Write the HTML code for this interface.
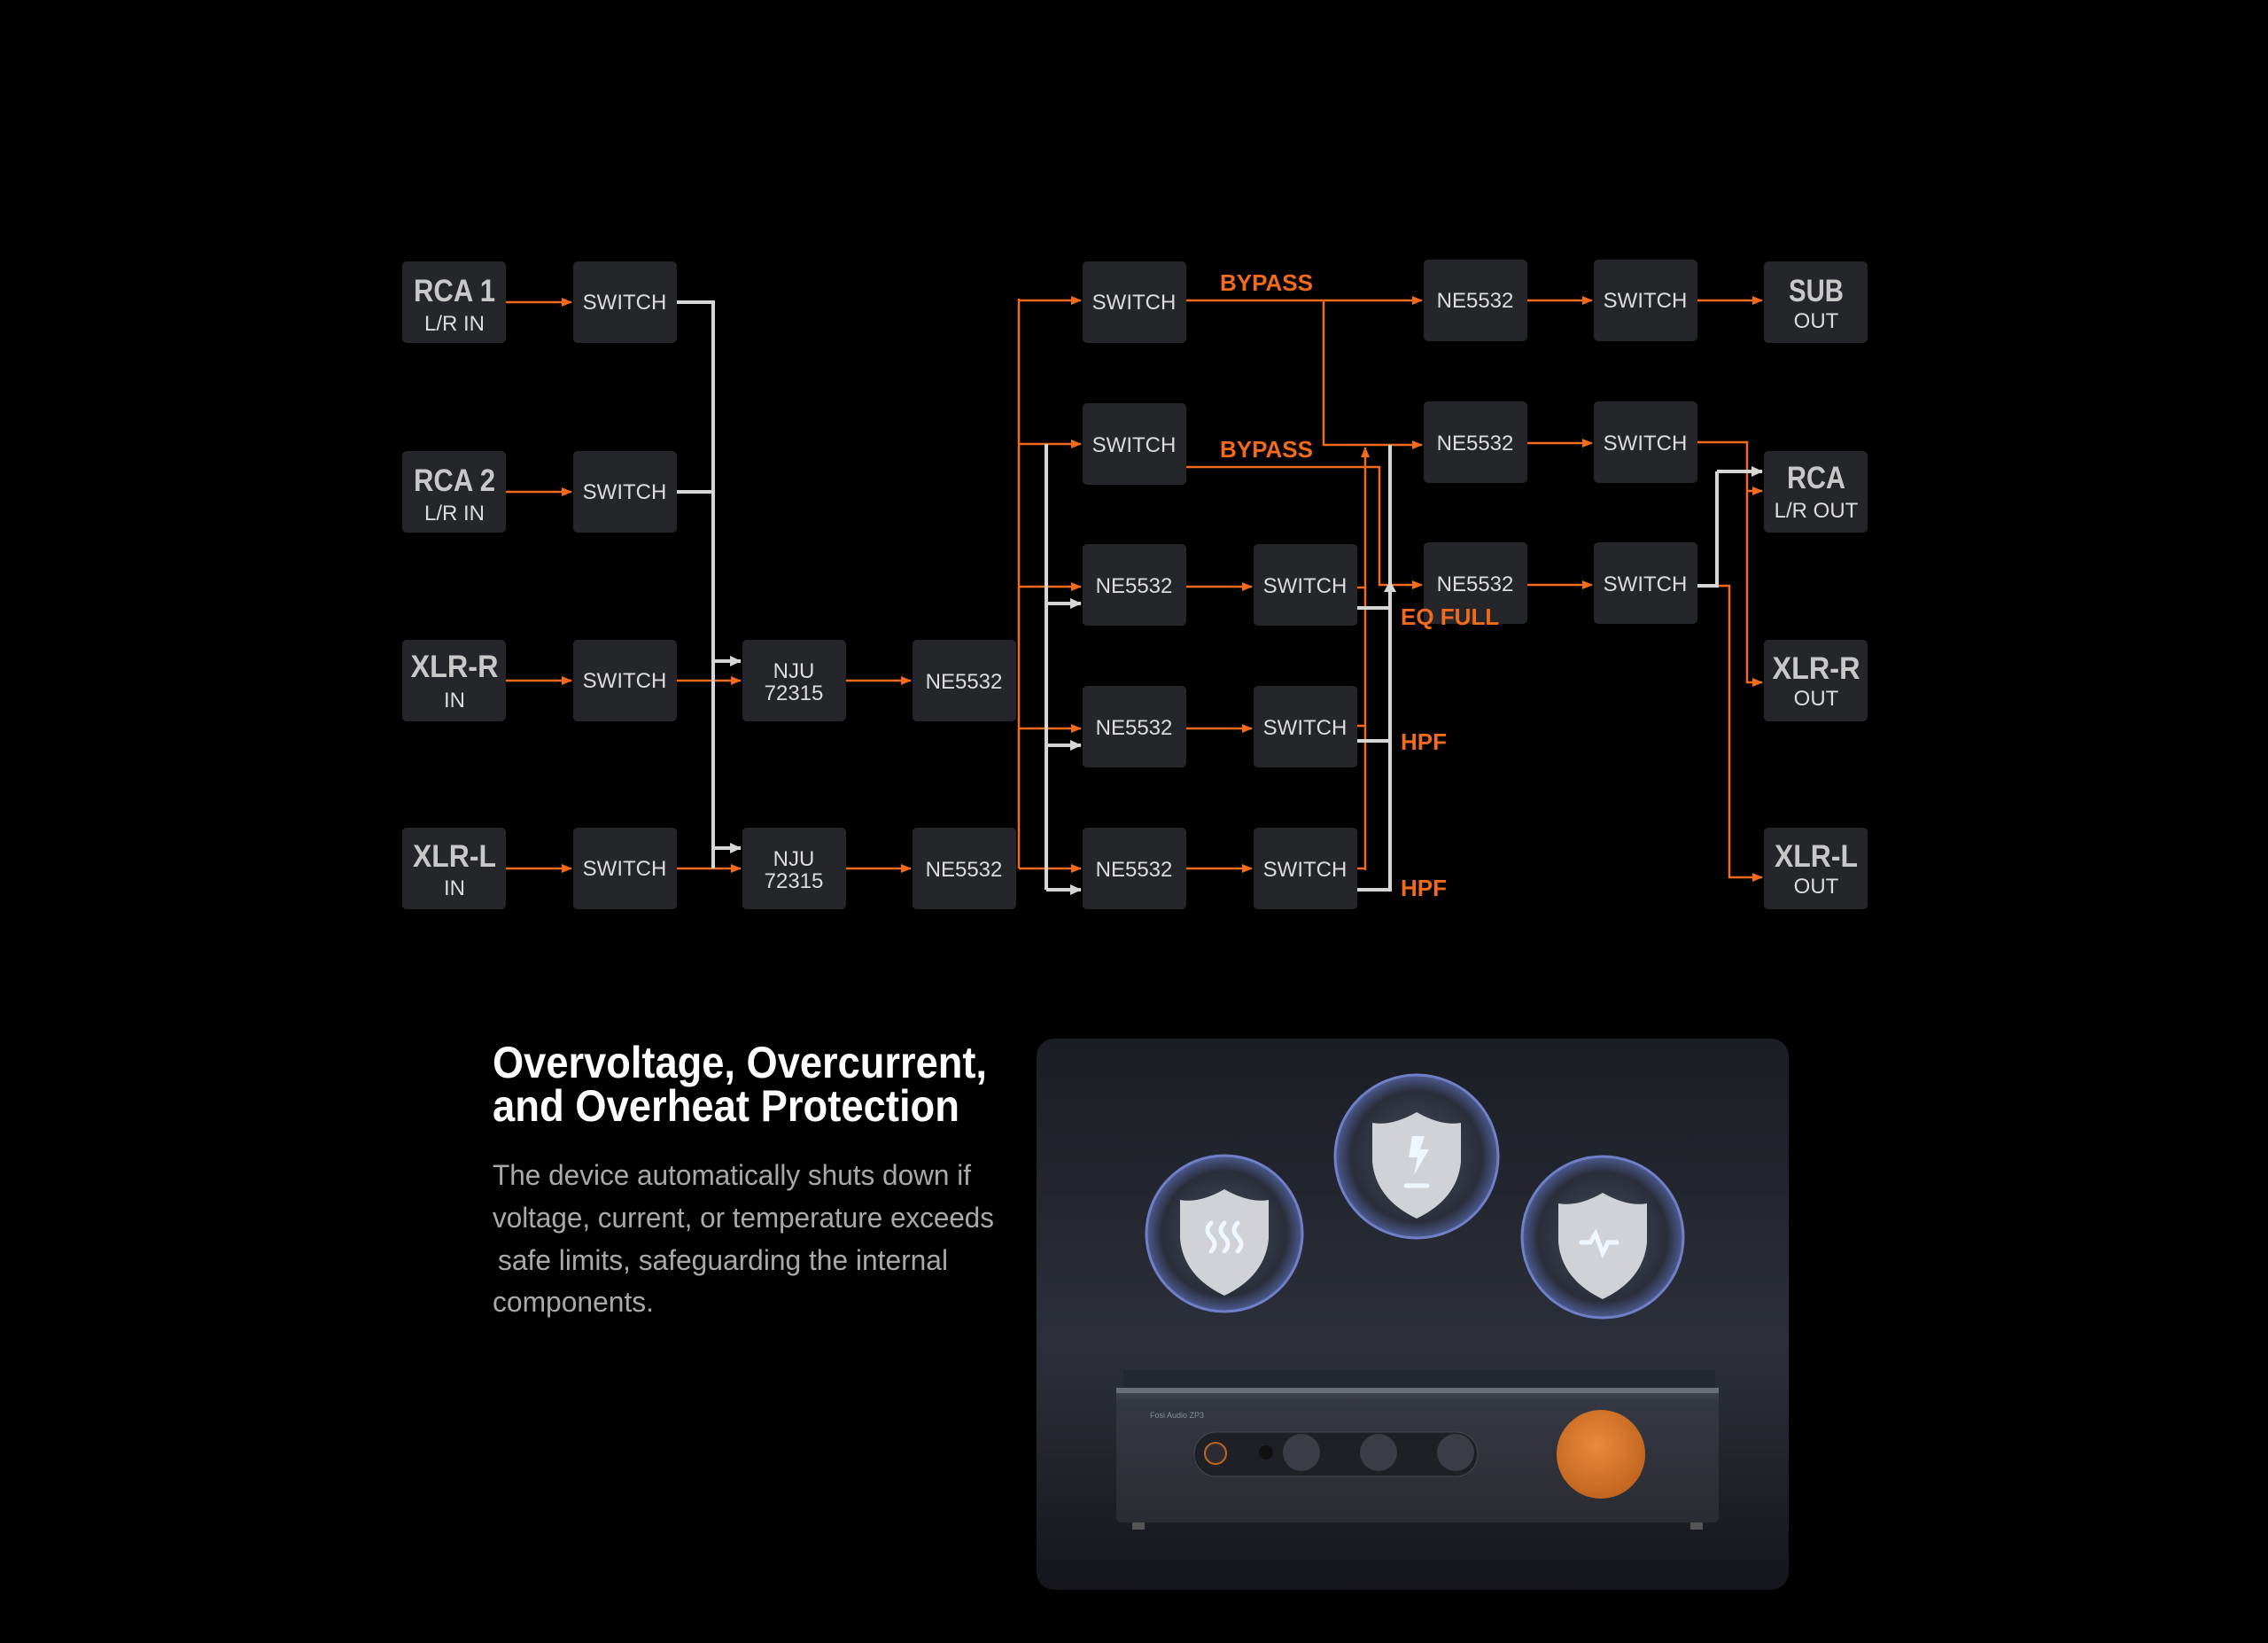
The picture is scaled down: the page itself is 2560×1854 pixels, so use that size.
<!DOCTYPE html>
<html><head><meta charset="utf-8"><style>
html,body{margin:0;padding:0;background:#000;}
svg{display:block}
.bx{fill:#252629}
.t{font-family:"Liberation Sans",sans-serif;fill:#dcdcdc;text-anchor:middle}
.o{stroke:#f26a1b;stroke-width:2.5;fill:none}
.w{stroke:#d6d6d6;stroke-width:4;fill:none}
.lb{font-family:"Liberation Sans",sans-serif;font-weight:bold;fill:#f26a1b;font-size:26px}
</style></head><body>
<svg width="2560" height="1854" viewBox="0 0 2560 1854" xmlns="http://www.w3.org/2000/svg">
<defs>
<marker id="ao" markerUnits="userSpaceOnUse" markerWidth="12" markerHeight="12" refX="11" refY="6" orient="auto"><path d="M0,1 L12,6 L0,11 Z" fill="#f26a1b"/></marker>
<marker id="aw" markerUnits="userSpaceOnUse" markerWidth="13" markerHeight="14" refX="12" refY="7" orient="auto"><path d="M0,1 L13,7 L0,13 Z" fill="#d6d6d6"/></marker>
<linearGradient id="card" x1="0" y1="0" x2="0" y2="1">
<stop offset="0" stop-color="#1b1d24"/><stop offset="0.55" stop-color="#2c2f3a"/><stop offset="0.7" stop-color="#262831"/><stop offset="1" stop-color="#15161b"/></linearGradient>
<radialGradient id="ball" cx="0.5" cy="0.5" r="0.5"><stop offset="0" stop-color="#4a4f5c"/><stop offset="0.8" stop-color="#2a2e3a"/><stop offset="1" stop-color="#4c5a90"/></radialGradient>
<linearGradient id="dev" x1="0" y1="0" x2="0" y2="1"><stop offset="0" stop-color="#4a4e5a"/><stop offset="0.1" stop-color="#353842"/><stop offset="1" stop-color="#2a2c33"/></linearGradient>
<radialGradient id="knob" cx="0.45" cy="0.4" r="0.6"><stop offset="0" stop-color="#e98a3c"/><stop offset="1" stop-color="#c2651f"/></radialGradient>
</defs>
<rect width="2560" height="1854" fill="#000"/>

<g>
<rect class="bx" x="454" y="295" width="117" height="92" rx="5"/>
<rect class="bx" x="454" y="509" width="117" height="92" rx="5"/>
<rect class="bx" x="454" y="722" width="117" height="92" rx="5"/>
<rect class="bx" x="454" y="934" width="117" height="92" rx="5"/>
<rect class="bx" x="647" y="295" width="117" height="92" rx="5"/>
<rect class="bx" x="647" y="509" width="117" height="92" rx="5"/>
<rect class="bx" x="647" y="722" width="117" height="92" rx="5"/>
<rect class="bx" x="647" y="934" width="117" height="92" rx="5"/>
<rect class="bx" x="838" y="722" width="117" height="92" rx="5"/>
<rect class="bx" x="838" y="934" width="117" height="92" rx="5"/>
<rect class="bx" x="1030" y="722" width="117" height="92" rx="5"/>
<rect class="bx" x="1030" y="934" width="117" height="92" rx="5"/>
<rect class="bx" x="1222" y="295" width="117" height="92" rx="5"/>
<rect class="bx" x="1222" y="455" width="117" height="92" rx="5"/>
<rect class="bx" x="1222" y="614" width="117" height="92" rx="5"/>
<rect class="bx" x="1222" y="774" width="117" height="92" rx="5"/>
<rect class="bx" x="1222" y="934" width="117" height="92" rx="5"/>
<rect class="bx" x="1415" y="614" width="117" height="92" rx="5"/>
<rect class="bx" x="1415" y="774" width="117" height="92" rx="5"/>
<rect class="bx" x="1415" y="934" width="117" height="92" rx="5"/>
<rect class="bx" x="1607" y="293" width="117" height="92" rx="5"/>
<rect class="bx" x="1607" y="453" width="117" height="92" rx="5"/>
<rect class="bx" x="1607" y="612" width="117" height="92" rx="5"/>
<rect class="bx" x="1799" y="293" width="117" height="92" rx="5"/>
<rect class="bx" x="1799" y="453" width="117" height="92" rx="5"/>
<rect class="bx" x="1799" y="612" width="117" height="92" rx="5"/>
<rect class="bx" x="1991" y="295" width="117" height="92" rx="5"/>
<rect class="bx" x="1991" y="509" width="117" height="92" rx="5"/>
<rect class="bx" x="1991" y="722" width="117" height="92" rx="5"/>
<rect class="bx" x="1991" y="934" width="117" height="92" rx="5"/>
</g>

<g class="t">
<g font-size="35" font-weight="bold" fill="#c8c8c8" lengthAdjust="spacingAndGlyphs">
<text x="513" y="340" textLength="92" lengthAdjust="spacingAndGlyphs">RCA 1</text>
<text x="513" y="554" textLength="92" lengthAdjust="spacingAndGlyphs">RCA 2</text>
<text x="513" y="764" textLength="99" lengthAdjust="spacingAndGlyphs">XLR-R</text>
<text x="513" y="978" textLength="94" lengthAdjust="spacingAndGlyphs">XLR-L</text>
<text x="2050" y="340" textLength="62" lengthAdjust="spacingAndGlyphs">SUB</text>
<text x="2050" y="551" textLength="66" lengthAdjust="spacingAndGlyphs">RCA</text>
<text x="2050" y="766" textLength="99" lengthAdjust="spacingAndGlyphs">XLR-R</text>
<text x="2050" y="978" textLength="94" lengthAdjust="spacingAndGlyphs">XLR-L</text>
</g>
<g font-size="24">
<text x="513" y="373">L/R IN</text><text x="513" y="587">L/R IN</text><text x="513" y="798">IN</text><text x="513" y="1010">IN</text>
<text x="2050" y="370">OUT</text><text x="2050" y="584">L/R OUT</text><text x="2050" y="796">OUT</text><text x="2050" y="1008">OUT</text>
<text x="705" y="349">SWITCH</text><text x="705" y="563">SWITCH</text><text x="705" y="776">SWITCH</text><text x="705" y="988">SWITCH</text>
<text x="896" y="765">NJU</text><text x="896" y="790">72315</text>
<text x="896" y="977">NJU</text><text x="896" y="1002">72315</text>
<text x="1088" y="777">NE5532</text><text x="1088" y="989">NE5532</text>
<text x="1280" y="349">SWITCH</text><text x="1280" y="510">SWITCH</text>
<text x="1280" y="669">NE5532</text><text x="1280" y="829">NE5532</text><text x="1280" y="989">NE5532</text>
<text x="1473" y="669">SWITCH</text><text x="1473" y="829">SWITCH</text><text x="1473" y="989">SWITCH</text>
<text x="1665" y="347">NE5532</text><text x="1665" y="508">NE5532</text><text x="1665" y="667">NE5532</text>
<text x="1857" y="347">SWITCH</text><text x="1857" y="508">SWITCH</text><text x="1857" y="667">SWITCH</text>
</g>
</g>
<text class="lb" x="1377" y="328">BYPASS</text>
<text class="lb" x="1377" y="516">BYPASS</text>
<text class="lb" x="1581" y="705">EQ FULL</text>
<text class="lb" x="1581" y="846">HPF</text>
<text class="lb" x="1581" y="1011">HPF</text>

<g class="o" marker-end="url(#ao)">
<path d="M571,341 H645"/><path d="M571,555 H645"/><path d="M571,768 H645"/><path d="M571,980 H645"/>
<path d="M764,768 H836"/><path d="M764,980 H836"/>
<path d="M955,768 H1028"/><path d="M955,980 H1028"/>
<path d="M1150,339 H1220"/><path d="M1150,501 H1220"/><path d="M1150,662 H1220"/><path d="M1150,822 H1220"/><path d="M1150,980 H1220"/>
<path d="M1339,339 H1605"/><path d="M1494,339 V502 H1605"/><path d="M1339,527 H1557 V660 H1605"/>
<path d="M1339,662 H1413"/><path d="M1339,822 H1413"/><path d="M1339,980 H1413"/>
<path d="M1541,982 V505"/>
<path d="M1724,339 H1797"/><path d="M1724,500 H1797"/><path d="M1724,660 H1797"/>
<path d="M1916,339 H1989"/>
<path d="M1916,499 H1972 V770 H1989"/><path d="M1972,554 H1989"/>
<path d="M1916,661 H1952 V990 H1989"/>
</g>
<g class="o"><path d="M1150,337 V980"/><path d="M1532,663 H1541"/><path d="M1532,819 H1541"/><path d="M1532,980 H1541"/></g>
<g class="w"><path d="M764,341 H805 V980"/><path d="M764,555 H805"/><path d="M1181,501 V1004"/>
<path d="M1532,686 H1569"/><path d="M1532,836 H1569"/><path d="M1532,1004 H1569 V502"/>
<path d="M1916,661 H1938 V532"/></g>
<g class="w" marker-end="url(#aw)">
<path d="M805,746 H836"/><path d="M805,957 H836"/>
<path d="M1181,681 H1220"/><path d="M1181,841 H1220"/><path d="M1181,1004 H1220"/>
<path d="M1938,532 H1989"/>
</g>
<path d="M1562,668 L1569,655 L1576,668 Z" fill="#d6d6d6"/>

<g font-family="Liberation Sans, sans-serif">
<text x="556" y="1216" font-size="50" font-weight="bold" fill="#fff" textLength="558" lengthAdjust="spacingAndGlyphs">Overvoltage, Overcurrent,</text>
<text x="556" y="1265" font-size="50" font-weight="bold" fill="#fff" textLength="527" lengthAdjust="spacingAndGlyphs">and Overheat Protection</text>
<g font-size="32" fill="#a9a9a9">
<text x="556" y="1337" textLength="540" lengthAdjust="spacingAndGlyphs">The device automatically shuts down if</text>
<text x="556" y="1385" textLength="566" lengthAdjust="spacingAndGlyphs">voltage, current, or temperature exceeds</text>
<text x="562" y="1433" textLength="508" lengthAdjust="spacingAndGlyphs">safe limits, safeguarding the internal</text>
<text x="556" y="1480" textLength="182" lengthAdjust="spacingAndGlyphs">components.</text>
</g>
</g>

<rect x="1170" y="1172" width="849" height="622" rx="20" fill="url(#card)"/>
<g>
<circle cx="1382" cy="1392" r="88" fill="url(#ball)" stroke="#6f7fc8" stroke-width="3"/>
<circle cx="1599" cy="1305" r="92" fill="url(#ball)" stroke="#6f7fc8" stroke-width="3"/>
<circle cx="1809" cy="1396" r="91" fill="url(#ball)" stroke="#6f7fc8" stroke-width="3"/>
<path d="M1382,1342 Q1410,1358 1432,1354 V1398 Q1428,1440 1382,1462 Q1336,1440 1332,1398 V1354 Q1354,1358 1382,1342Z" fill="#d0d2d8"/>
<path d="M1599,1255 Q1627,1271 1649,1267 V1311 Q1645,1353 1599,1375 Q1553,1353 1549,1311 V1267 Q1571,1271 1599,1255Z" fill="#d0d2d8"/>
<path d="M1809,1346 Q1837,1362 1859,1358 V1402 Q1855,1444 1809,1466 Q1763,1444 1759,1402 V1358 Q1781,1362 1809,1346Z" fill="#d0d2d8"/>
<g stroke="#f0f6ff" stroke-width="5" fill="none" stroke-linecap="round">
<path d="M1367,1380 q-8,8 0,16 q8,8 0,16"/><path d="M1382,1380 q-8,8 0,16 q8,8 0,16"/><path d="M1397,1380 q-8,8 0,16 q8,8 0,16"/>
<path d="M1785,1402 h10 l6,-10 l8,22 l6,-12 h10"/>
<path d="M1587,1338 h24"/>
</g>
<path d="M1594,1282 L1590,1306 L1600,1306 L1596,1326 L1613,1297 L1603,1297 L1608,1282 Z" fill="#f0f6ff"/>
</g>
<rect x="1268" y="1546" width="668" height="22" fill="#232730"/>
<rect x="1260" y="1566" width="680" height="152" rx="6" fill="url(#dev)"/>
<rect x="1260" y="1566" width="680" height="6" fill="#6a6e78"/>
<text x="1298" y="1600" font-family="Liberation Sans, sans-serif" font-size="9" fill="#8a8e98">Fosi Audio ZP3</text>
<rect x="1348" y="1616" width="320" height="50" rx="25" fill="#1e2026" stroke="#444852"/>
<circle cx="1372" cy="1640" r="12" fill="#2a2c32" stroke="#c2651f" stroke-width="2"/>
<circle cx="1429" cy="1639" r="8" fill="#111"/>
<circle cx="1469" cy="1639" r="21" fill="#3a3d45"/>
<circle cx="1556" cy="1639" r="21" fill="#3a3d45"/>
<circle cx="1643" cy="1639" r="21" fill="#3a3d45"/>
<circle cx="1807" cy="1641" r="50" fill="url(#knob)"/>
<rect x="1278" y="1718" width="14" height="8" fill="#555"/><rect x="1908" y="1718" width="14" height="8" fill="#555"/>
</svg>
</body></html>
